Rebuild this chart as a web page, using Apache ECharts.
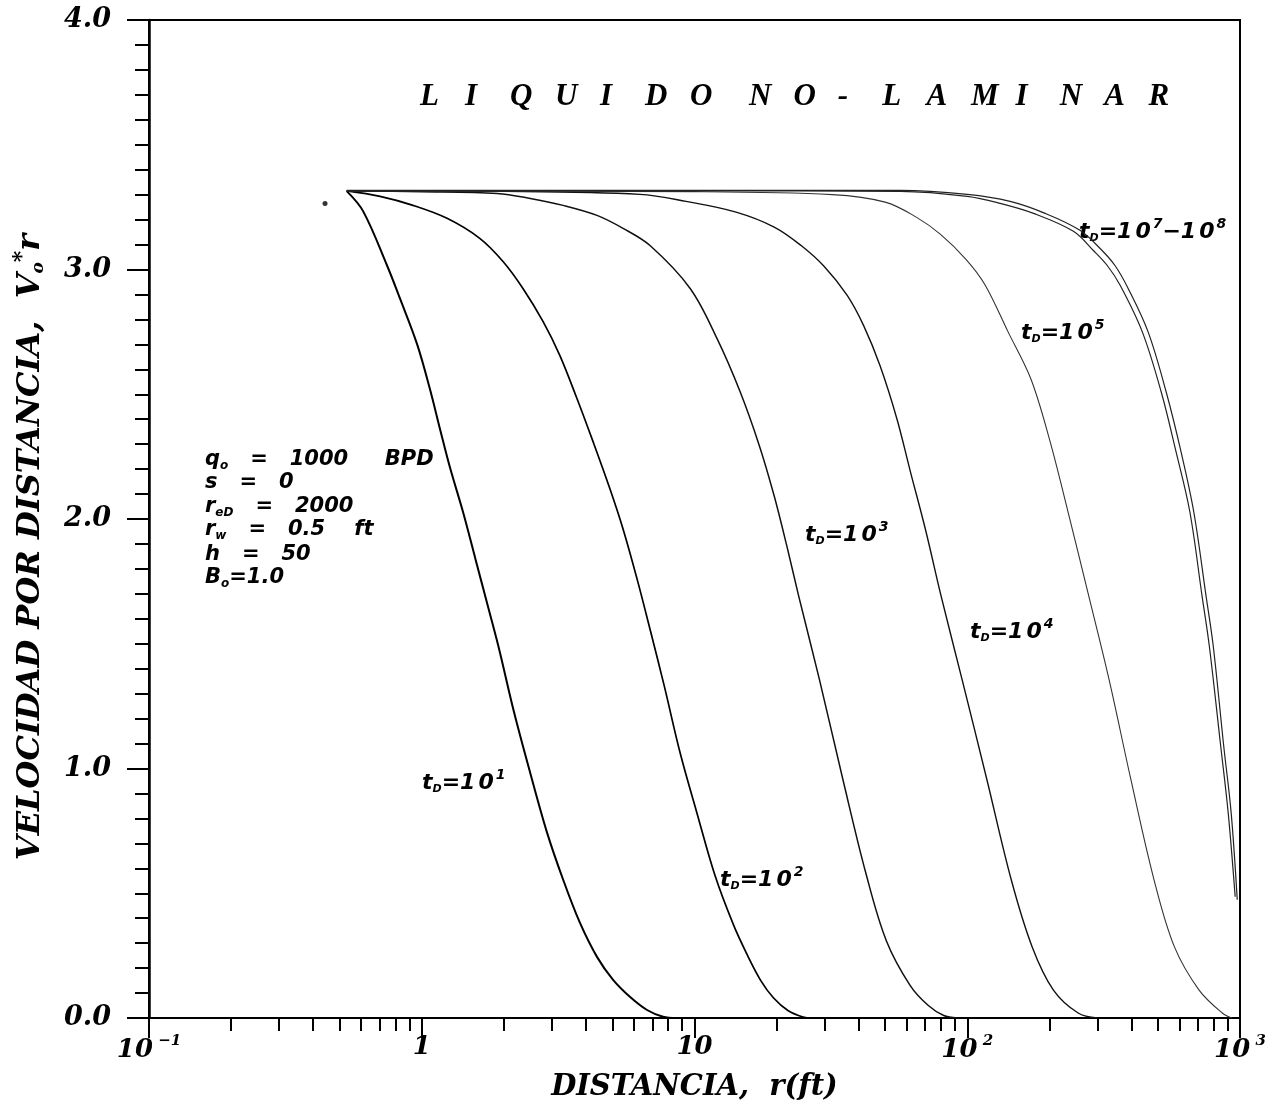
<!DOCTYPE html>
<html>
<head>
<meta charset="utf-8">
<title>Liquido no-laminar</title>
<script src="https://cdn.jsdelivr.net/npm/echarts@6/dist/echarts.min.js"></script>
<style>
  html, body { margin: 0; padding: 0; background: #ffffff; overflow: hidden; }
  #chart { width: 1276px; height: 1113px; }
</style>
</head>
<body>
<div id="chart"></div>
<script>
// Velocity-times-distance (Vo*r) versus radius r (ft) for several dimensionless times tD.
const tD1_r = [0.531, 0.61, 0.746, 0.832, 0.962, 1.072, 1.167, 1.27, 1.417, 1.574, 1.72, 1.91, 2.18, 2.496, 2.88, 3.30, 3.80, 4.39, 5.03, 5.81, 6.70, 7.67, 8.6];
const tD1_v = [3.314, 3.233, 3.016, 2.884, 2.70, 2.52, 2.36, 2.205, 2.028, 1.839, 1.679, 1.49, 1.225, 0.984, 0.743, 0.554, 0.382, 0.245, 0.153, 0.084, 0.032, 0.005, 0.0];

const tD2_r = [0.531, 0.703, 0.929, 1.238, 1.636, 1.986, 2.35, 2.786, 3.21, 3.71, 4.25, 4.90, 5.47, 6.16, 6.90, 7.75, 8.85, 10.2, 11.9, 13.9, 15.5, 17.5, 19.5, 22.0, 25.0, 27.0];
const tD2_v = [3.315, 3.293, 3.257, 3.205, 3.124, 3.032, 2.924, 2.791, 2.655, 2.482, 2.309, 2.120, 1.960, 1.759, 1.55, 1.33, 1.064, 0.823, 0.570, 0.373, 0.26, 0.15, 0.08, 0.03, 0.004, 0.0];

const tD3_r = [0.531, 1.0, 1.89, 2.50, 3.30, 4.39, 5.47, 6.87, 9.64, 12.1, 14.7, 17.3, 19.6, 21.8, 24.1, 28.7, 35.0, 42.5, 50.5, 61.8, 72.0, 82.0, 92.0];
const tD3_v = [3.315, 3.312, 3.305, 3.285, 3.257, 3.217, 3.165, 3.096, 2.924, 2.723, 2.510, 2.293, 2.092, 1.892, 1.691, 1.357, 0.956, 0.58, 0.31, 0.13, 0.05, 0.01, 0.0];

const tD4_r = [0.531, 2.0, 6.31, 9.31, 14.2, 19.6, 24.6, 29.9, 36.3, 41.7, 47.9, 55.2, 61.9, 70.2, 80.2, 95.7, 118, 145, 173, 207, 255, 300];
const tD4_v = [3.315, 3.313, 3.301, 3.273, 3.23, 3.17, 3.096, 3.012, 2.896, 2.775, 2.614, 2.402, 2.189, 1.960, 1.691, 1.357, 0.956, 0.554, 0.285, 0.112, 0.02, 0.0];

const tD5_r = [0.531, 10, 32.0, 50.0, 65.0, 80.0, 99.1, 116, 141, 171, 200, 234, 279, 331, 398, 484, 575, 708, 861, 933];
const tD5_v = [3.315, 3.312, 3.30, 3.27, 3.21, 3.14, 3.04, 2.94, 2.751, 2.562, 2.321, 2.03, 1.691, 1.357, 0.956, 0.554, 0.285, 0.112, 0.02, 0.0];

const tD7_r = [0.531, 10, 56.8, 100, 132, 175, 245, 290, 326, 364, 438, 514, 583, 655, 726, 772, 850, 905, 960];
const tD7_v = [3.315, 3.315, 3.313, 3.293, 3.265, 3.225, 3.153, 3.076, 3.016, 2.936, 2.751, 2.510, 2.269, 2.028, 1.691, 1.490, 1.088, 0.823, 0.486];

const tD8_r = [0.531, 10, 56.8, 100, 143.6, 193, 259, 307, 348, 389, 460, 536, 608, 677, 751, 798, 872, 928, 977];
const tD8_v = [3.317, 3.317, 3.317, 3.301, 3.273, 3.225, 3.157, 3.084, 3.016, 2.924, 2.751, 2.510, 2.269, 2.028, 1.691, 1.490, 1.088, 0.823, 0.474];

// isolated plotted point near the wellbore
const dot_r = [0.442];
const dot_v = [3.265];

// axis ticks and labels
const xMajorTicks = [0.1, 1, 10, 100, 1000];
const xLabelBase = ['10', '1', '10', '10', '10'];
const xLabelExp = ['\u22121', '', '', '2', '3'];
const xMinorSteps = [2, 3, 4, 5, 6, 7, 8, 9];
const yTicks = [0, 1, 2, 3, 4];

// curve annotations
const curveLabelExp = ['1', '2', '3', '4', '5'];
const paramSymbol = ['q', 's', 'r', 'r', 'h', 'B'];
const paramSub = ['o', '', 'eD', 'w', '', 'o'];
const paramRest = ['   =   1000     BPD', '   =   0', '   =   2000', '   =   0.5    ft', '   =   50', '=1.0'];

const xMinorTicks = [];
for (let d = 0; d < xMajorTicks.length - 1; d++) {
  xMinorSteps.forEach(k => xMinorTicks.push(+(k * xMajorTicks[d]).toPrecision(3)));
}

const zip = (xs, ys) => xs.map((x, i) => [x, ys[i]]);

const curves = [
  { name: 'tD=10^1', r: tD1_r, v: tD1_v, width: 2.0, color: '#000' },
  { name: 'tD=10^2', r: tD2_r, v: tD2_v, width: 1.7, color: '#000' },
  { name: 'tD=10^3', r: tD3_r, v: tD3_v, width: 1.5, color: '#111' },
  { name: 'tD=10^4', r: tD4_r, v: tD4_v, width: 1.4, color: '#111' },
  { name: 'tD=10^5', r: tD5_r, v: tD5_v, width: 1.1, color: '#333' },
  { name: 'tD=10^7', r: tD7_r, v: tD7_v, width: 1.2, color: '#222' },
  { name: 'tD=10^8', r: tD8_r, v: tD8_v, width: 1.2, color: '#222' }
];

const serifBI = { fontFamily: 'DejaVu Serif', fontStyle: 'italic', fontWeight: 'bold' };
const sansBI = { fontFamily: 'DejaVu Sans', fontStyle: 'italic', fontWeight: 'bold' };

const series = curves.map(c => ({
  name: c.name,
  type: 'line',
  xAxisIndex: 0,
  yAxisIndex: 0,
  data: zip(c.r, c.v),
  showSymbol: false,
  smooth: 0.35,
  lineStyle: { color: c.color, width: c.width },
  silent: true,
  z: 3
}));
series.push({
  name: 'punto',
  type: 'scatter',
  data: zip(dot_r, dot_v),
  symbolSize: 5,
  itemStyle: { color: '#000' },
  silent: true
});

// rich text styles for annotations
const lblRich = {
  m: Object.assign({ fontSize: 22, fill: '#000' }, sansBI),
  d: Object.assign({ fontSize: 22, fill: '#000', padding: [0, 0, 0, 3] }, sansBI),
  sub: Object.assign({ fontSize: 11, fill: '#000', padding: [12, 0, 0, 0] }, sansBI),
  sup: Object.assign({ fontSize: 14, fill: '#000', padding: [0, 0, 16, 2] }, sansBI)
};
const tdLabel = exp => '{m|t}{sub|D}{m|=1}{d|0}{sup|' + exp + '}';

const curveLabelPos = [[422, 783], [720, 880], [805, 535], [970, 632], [1021, 333]];
const graphics = curveLabelPos.map((p, i) => ({
  type: 'text', x: p[0], y: p[1], silent: true,
  style: { text: tdLabel(curveLabelExp[i]), rich: lblRich, align: 'left', verticalAlign: 'middle' }
}));
graphics.push({
  type: 'text', x: 1079, y: 232, silent: true,
  style: { text: '{m|t}{sub|D}{m|=1}{d|0}{sup|7}{m|\u22121}{d|0}{sup|8}', rich: lblRich, align: 'left', verticalAlign: 'middle' }
});

// well and fluid parameters
const parRich = {
  m: Object.assign({ fontSize: 21, fill: '#000' }, sansBI),
  sub: Object.assign({ fontSize: 12, fill: '#000', padding: [12, 0, 0, 0] }, sansBI)
};
const parY = [460, 483, 507, 530, 555, 578];
paramSymbol.forEach((s, i) => {
  const sub = paramSub[i] ? '{sub|' + paramSub[i] + '}' : '';
  graphics.push({
    type: 'text', x: 205, y: parY[i], silent: true,
    style: { text: '{m|' + s + '}' + sub + '{m|' + paramRest[i] + '}', rich: parRich, align: 'left', verticalAlign: 'middle' }
  });
});

// spaced title
const titleWords = ['LIQUIDO', 'NO-LAMINAR'];
const titleStart = [420, 749];
const titleStep = [45, 44.4];
titleWords.forEach((w, wi) => {
  w.split('').forEach((ch, ci) => {
    graphics.push({
      type: 'text', x: titleStart[wi] + ci * titleStep[wi], y: 97, silent: true,
      style: {
        text: ch, fill: '#000', align: 'left', verticalAlign: 'middle',
        fontFamily: 'Liberation Serif', fontStyle: 'italic', fontWeight: 'bold', fontSize: 31
      }
    });
  });
});

// vertical axis title
graphics.push({
  type: 'text', x: 31, y: 547, rotation: Math.PI / 2, silent: true,
  style: {
    text: '{a|VELOCIDAD POR DISTANCIA,  V}{sub|o}{sup|*}{a|r}',
    align: 'center', verticalAlign: 'middle',
    rich: {
      a: Object.assign({ fontSize: 32, fill: '#000' }, serifBI),
      sub: Object.assign({ fontSize: 17, fill: '#000', padding: [15, 0, 0, 0] }, serifBI),
      sup: Object.assign({ fontSize: 22, fill: '#000', padding: [0, 0, 18, 0] }, serifBI)
    }
  }
});

const chart = echarts.init(document.getElementById('chart'), null, { renderer: 'canvas' });

chart.setOption({
  backgroundColor: '#ffffff',
  animation: false,
  grid: {
    left: 149, right: 36, top: 20, bottom: 95,
    containLabel: false, outerBoundsMode: 'none',
    show: true, borderColor: '#000', borderWidth: 2, backgroundColor: 'transparent'
  },
  xAxis: [
    {
      type: 'log', logBase: 10, min: 0.1, max: 1000, position: 'bottom',
      name: 'DISTANCIA,  r(ft)', nameLocation: 'middle', nameGap: 55,
      nameTextStyle: Object.assign({ fontSize: 29, color: '#000' }, serifBI),
      axisLine: { show: true, lineStyle: { color: '#000', width: 2 } },
      axisTick: { show: true, inside: false, length: 20, lineStyle: { color: '#000', width: 2 }, customValues: xMajorTicks },
      axisLabel: {
        show: true, margin: 16, customValues: xMajorTicks,
        formatter: val => {
          const i = xMajorTicks.findIndex(t => Math.abs(t - val) / t < 1e-6);
          if (i < 0) return '';
          return '{b|' + xLabelBase[i] + '}' + (xLabelExp[i] ? '{s| ' + xLabelExp[i] + '}' : '');
        },
        rich: {
          b: Object.assign({ fontSize: 26, color: '#000' }, serifBI),
          s: Object.assign({ fontSize: 15, color: '#000', padding: [0, 0, 18, 0] }, serifBI)
        }
      },
      splitLine: { show: false }
    },
    {
      type: 'log', logBase: 10, min: 0.1, max: 1000, position: 'bottom', gridIndex: 0,
      axisLine: { show: false },
      axisTick: { show: true, inside: false, length: 13, lineStyle: { color: '#000', width: 2 }, customValues: xMinorTicks },
      axisLabel: { show: false },
      splitLine: { show: false }
    }
  ],
  yAxis: {
    type: 'value', min: 0, max: 4, interval: 1,
    axisLine: { show: true, lineStyle: { color: '#000', width: 2.5 } },
    axisTick: { show: true, inside: false, length: 22, lineStyle: { color: '#000', width: 2 } },
    minorTick: { show: true, splitNumber: 10, length: 14, lineStyle: { color: '#000', width: 2 } },
    axisLabel: Object.assign({
      margin: 38, fontSize: 27, color: '#000',
      formatter: v => (yTicks.indexOf(v) >= 0 ? v.toFixed(1) : '')
    }, serifBI),
    splitLine: { show: false },
    minorSplitLine: { show: false }
  },
  series: series,
  graphic: graphics
});
</script>
</body>
</html>
